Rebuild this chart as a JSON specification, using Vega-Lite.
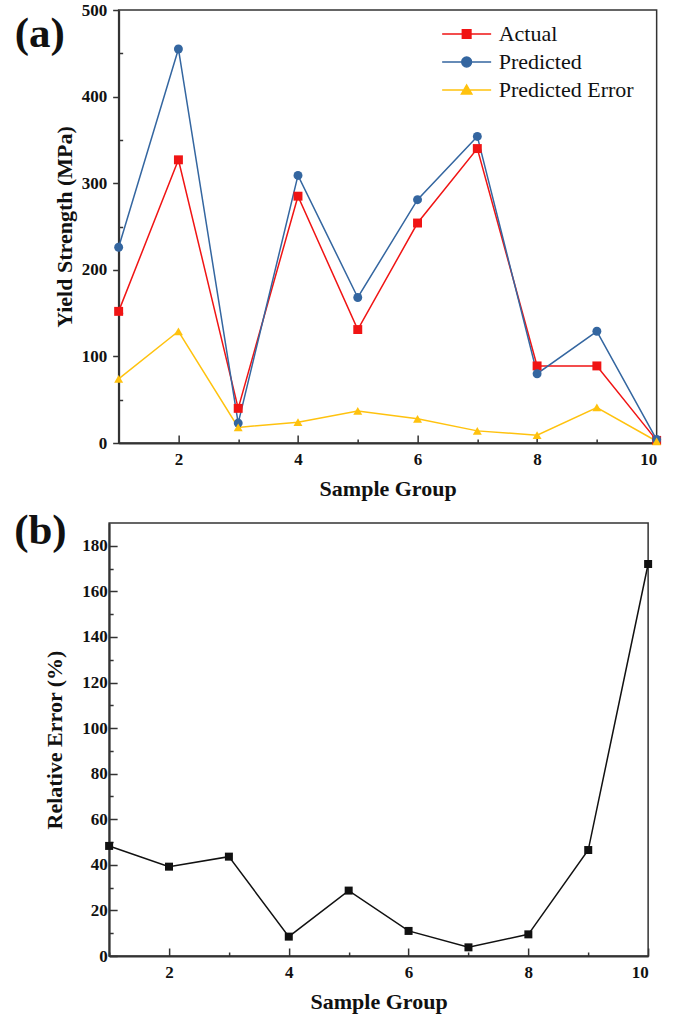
{
  "$schema": "https://vega.github.io/schema/vega-lite/v6.json",
  "background": "white",
  "padding": {"left": 13, "top": 0, "right": 0, "bottom": 5},
  "spacing": 9,
  "center": true,
  "datasets": {
    "a": [
      {"g": 1, "series": "Actual", "v": 152},
      {"g": 2, "series": "Actual", "v": 327},
      {"g": 3, "series": "Actual", "v": 40},
      {"g": 4, "series": "Actual", "v": 285},
      {"g": 5, "series": "Actual", "v": 131},
      {"g": 6, "series": "Actual", "v": 254},
      {"g": 7, "series": "Actual", "v": 340},
      {"g": 8, "series": "Actual", "v": 89},
      {"g": 9, "series": "Actual", "v": 89},
      {"g": 10, "series": "Actual", "v": 3},
      {"g": 1, "series": "Predicted", "v": 226},
      {"g": 2, "series": "Predicted", "v": 455},
      {"g": 3, "series": "Predicted", "v": 23},
      {"g": 4, "series": "Predicted", "v": 309},
      {"g": 5, "series": "Predicted", "v": 168},
      {"g": 6, "series": "Predicted", "v": 281},
      {"g": 7, "series": "Predicted", "v": 354},
      {"g": 8, "series": "Predicted", "v": 80},
      {"g": 9, "series": "Predicted", "v": 129},
      {"g": 10, "series": "Predicted", "v": 4},
      {"g": 1, "series": "Predicted Error", "v": 74},
      {"g": 2, "series": "Predicted Error", "v": 129},
      {"g": 3, "series": "Predicted Error", "v": 18},
      {"g": 4, "series": "Predicted Error", "v": 24},
      {"g": 5, "series": "Predicted Error", "v": 37},
      {"g": 6, "series": "Predicted Error", "v": 28},
      {"g": 7, "series": "Predicted Error", "v": 14},
      {"g": 8, "series": "Predicted Error", "v": 9},
      {"g": 9, "series": "Predicted Error", "v": 41},
      {"g": 10, "series": "Predicted Error", "v": 2}
    ],
    "b": [
      {"g": 1, "e": 48.3},
      {"g": 2, "e": 39.2},
      {"g": 3, "e": 43.6},
      {"g": 4, "e": 8.5},
      {"g": 5, "e": 28.7},
      {"g": 6, "e": 11},
      {"g": 7, "e": 3.8},
      {"g": 8, "e": 9.5},
      {"g": 9, "e": 46.5},
      {"g": 10, "e": 172}
    ]
  },
  "vconcat": [
    {
      "width": 538,
      "height": 433,
      "title": {"text": "(a)", "anchor": "start", "orient": "top", "frame": "group", "fontSize": 43, "font": "Liberation Serif", "fontWeight": "bold", "color": "#111", "dx": -104, "dy": 55, "offset": 0},
      "data": {"name": "a"},
      "encoding": {
        "x": {"field": "g", "type": "quantitative", "title": "Sample Group",
          "scale": {"domain": [1, 10], "nice": false, "zero": false},
          "axis": {"values": [1, 2, 3, 4, 5, 6, 7, 8, 9, 10],
            "labelExpr": "datum.value % 2 === 0 ? datum.label : ''",
            "tickSize": {"condition": {"test": "datum.value % 2 === 0", "value": -8}, "value": -4},
            "labelPadding": 16, "titlePadding": 11}},
        "y": {"field": "v", "type": "quantitative", "title": "Yield Strength (MPa)",
          "scale": {"domain": [0, 500], "nice": false},
          "axis": {"values": [0, 50, 100, 150, 200, 250, 300, 350, 400, 450, 500],
            "labelExpr": "datum.value % 100 === 0 ? datum.label : ''",
            "tickSize": {"condition": {"test": "datum.value % 100 === 0", "value": 6}, "value": -4},
            "labelPadding": 6, "titlePadding": 5}}
      },
      "resolve": {
        "scale": {"shape": "independent", "fill": "independent", "stroke": "independent"},
        "legend": {"shape": "independent", "fill": "independent", "stroke": "independent"}
      },
      "layer": [
        {"mark": {"type": "line", "strokeWidth": 1.5},
          "encoding": {"color": {"field": "series", "type": "nominal",
            "scale": {"domain": ["Actual", "Predicted", "Predicted Error"], "range": ["#f01414", "#3466a0", "#ffc20e"]},
            "legend": null}}},
        {"mark": {"type": "point", "filled": true, "opacity": 1, "size": 80},
          "encoding": {
            "color": {"field": "series", "type": "nominal",
              "scale": {"domain": ["Actual", "Predicted", "Predicted Error"], "range": ["#f01414", "#3466a0", "#ffc20e"]},
              "legend": null},
            "shape": {"field": "series", "type": "nominal",
              "scale": {"domain": ["Actual", "Predicted", "Predicted Error"], "range": ["square", "circle", "triangle-up"]},
              "legend": null}}},
        {"mark": {"type": "point", "filled": true, "opacity": 0},
          "encoding": {
            "fill": {"field": "series", "type": "nominal", "title": null,
              "scale": {"domain": ["Actual", "Predicted", "Predicted Error"], "range": ["#f01414", "#3466a0", "#ffc20e"]},
              "legend": {"orient": "none", "legendX": 337, "legendY": 13, "padding": 0, "rowPadding": 6, "labelOffset": 21,
                "labelFont": "Liberation Serif", "labelFontSize": 22, "labelFontWeight": "normal", "labelColor": "#111",
                "symbolSize": 150, "symbolStrokeWidth": 1.5, "symbolOpacity": 1}},
            "stroke": {"field": "series", "type": "nominal", "title": null,
              "scale": {"domain": ["Actual", "Predicted", "Predicted Error"], "range": ["#f01414", "#3466a0", "#ffc20e"]},
              "legend": {"orient": "none", "legendX": 337, "legendY": 13, "padding": 0, "rowPadding": 6, "labelOffset": 21,
                "labelFont": "Liberation Serif", "labelFontSize": 22, "labelFontWeight": "normal", "labelColor": "#111",
                "symbolSize": 150, "symbolStrokeWidth": 1.5, "symbolOpacity": 1}},
            "shape": {"field": "series", "type": "nominal", "title": null,
              "scale": {"domain": ["Actual", "Predicted", "Predicted Error"], "range": [
                "M-4,0H4M-0.7,-0.7H0.7V0.7H-0.7Z",
                "M-4,0H4M0.8,0A0.8,0.8,0,1,1,-0.8,0A0.8,0.8,0,1,1,0.8,0Z",
                "M-4,0H4M0,-0.8L0.85,0.65H-0.85Z"]},
              "legend": {"orient": "none", "legendX": 337, "legendY": 13, "padding": 0, "rowPadding": 6, "labelOffset": 21,
                "labelFont": "Liberation Serif", "labelFontSize": 22, "labelFontWeight": "normal", "labelColor": "#111",
                "symbolSize": 150, "symbolStrokeWidth": 1.5, "symbolOpacity": 1}}
          }}
      ]
    },
    {
      "width": 539,
      "height": 433,
      "title": {"text": "(b)", "anchor": "start", "orient": "top", "frame": "group", "fontSize": 43, "font": "Liberation Serif", "fontWeight": "bold", "color": "#111", "dx": -95, "dy": 30, "offset": 0},
      "data": {"name": "b"},
      "encoding": {
        "x": {"field": "g", "type": "quantitative", "title": "Sample Group",
          "scale": {"domain": [1, 10], "nice": false, "zero": false},
          "axis": {"values": [1, 2, 3, 4, 5, 6, 7, 8, 9, 10],
            "labelExpr": "datum.value % 2 === 0 ? datum.label : ''",
            "tickSize": {"condition": {"test": "datum.value % 2 === 0", "value": -8}, "value": -4},
            "labelPadding": 16, "titlePadding": 11}}
      },
      "resolve": {"scale": {"y": "independent"}, "axis": {"y": "independent"}},
      "layer": [
        {"mark": {"type": "line", "strokeWidth": 1.5, "color": "#111"},
          "encoding": {
            "y": {"field": "e", "type": "quantitative", "title": "Relative Error (%)",
              "scale": {"domain": [0, 190], "nice": false},
              "axis": {"values": [0, 10, 20, 30, 40, 50, 60, 70, 80, 90, 100, 110, 120, 130, 140, 150, 160, 170, 180],
                "labelExpr": "datum.value % 20 === 0 ? datum.label : ''",
                "tickSize": {"condition": {"test": "datum.value % 20 === 0", "value": -8}, "value": -4},
                "labelPadding": 10, "titlePadding": 15}}}},
        {"mark": {"type": "point", "shape": "square", "filled": true, "opacity": 1, "size": 64, "color": "#111"},
          "encoding": {
            "y": {"field": "e", "type": "quantitative",
              "scale": {"domain": [0, 190], "nice": false},
              "axis": {"orient": "right", "offset": 29, "labels": false, "ticks": false, "domainOpacity": 0, "title": null, "grid": false}}}}
      ]
    }
  ],
  "config": {
    "font": "Liberation Serif",
    "view": {"stroke": "#333", "strokeWidth": 1.5},
    "axis": {"grid": false, "domainColor": "#333", "domainWidth": 2, "tickColor": "#333", "tickWidth": 1.5,
      "labelFont": "Liberation Serif", "labelFontWeight": "bold", "labelFontSize": 17, "labelColor": "#111",
      "titleFont": "Liberation Serif", "titleFontWeight": "bold", "titleFontSize": 22, "titleColor": "#111"}
  }
}
